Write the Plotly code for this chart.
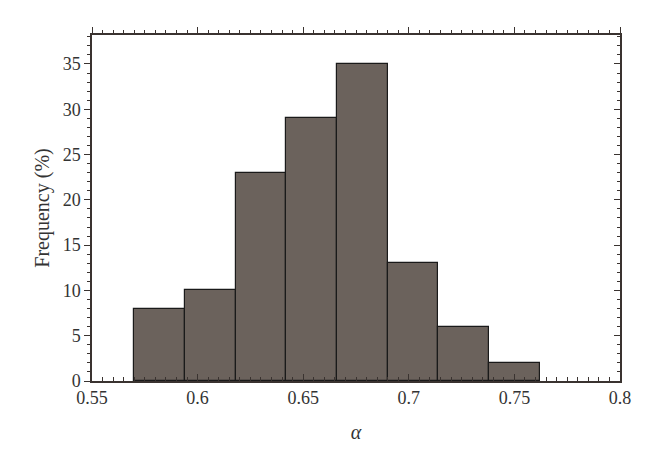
import plotly.graph_objects as go

bin_left = [0.570, 0.594, 0.618, 0.642, 0.666, 0.690, 0.714, 0.738]
bin_width = 0.024
frequency = [8, 10, 23, 29, 35, 13, 6, 2]
x_ticks = [0.55, 0.6, 0.65, 0.7, 0.75, 0.8]
x_tick_text = ["0.55", "0.6", "0.65", "0.7", "0.75", "0.8"]
y_ticks = [0, 5, 10, 15, 20, 25, 30, 35]

font_family = "Liberation Serif, DejaVu Serif, serif"
axis_color = "#3a3330"
text_color = "#333333"

fig = go.Figure()
fig.add_trace(go.Bar(
    x=bin_left, y=frequency, width=[bin_width] * len(bin_left), offset=0,
    marker=dict(color="#6b625c", line=dict(color="#1a1a1a", width=1.2)),
    showlegend=False,
))
fig.add_trace(go.Scatter(x=[0.55], y=[0], xaxis="x2", yaxis="y2",
                         mode="markers", marker=dict(opacity=0), showlegend=False,
                         hoverinfo="skip"))

common = dict(showgrid=False, zeroline=False, linecolor=axis_color, linewidth=1.5,
              tickcolor=axis_color, tickwidth=1.2, automargin=False,
              tickfont=dict(family=font_family, size=18, color=text_color))

fig.update_layout(
    width=660, height=470,
    margin=dict(l=84, r=48, t=27, b=97),
    plot_bgcolor="white", paper_bgcolor="white",
    bargap=0,
    xaxis=dict(range=[0.55, 0.8], tickvals=x_ticks, ticktext=x_tick_text,
               ticks="inside", ticklen=7, showline=True,
               minor=dict(dtick=0.005, tick0=0.55, ticks="inside", ticklen=4,
                          tickcolor=axis_color, tickwidth=1),
               title=dict(text="<i>α</i>", font=dict(family=font_family, size=20, color=text_color),
                          standoff=18),
               **common),
    yaxis=dict(range=[0, 38.2], tickvals=y_ticks, ticks="outside", ticklen=6,
               showline=True,
               minor=dict(dtick=1, tick0=0, ticks="outside", ticklen=3,
                          tickcolor=axis_color, tickwidth=1),
               title=dict(text="Frequency (%)", font=dict(family=font_family, size=20, color=text_color),
                          standoff=8),
               **common),
    xaxis2=dict(range=[0.55, 0.8], overlaying="x", side="top", tickvals=x_ticks,
                showticklabels=False, ticks="outside", ticklen=6, showline=True,
                minor=dict(dtick=0.005, tick0=0.55, ticks="outside", ticklen=3,
                           tickcolor=axis_color, tickwidth=1),
                **common),
    yaxis2=dict(range=[0, 38.2], overlaying="y", side="right", tickvals=y_ticks,
                showticklabels=False, ticks="inside", ticklen=6, showline=True,
                minor=dict(dtick=1, tick0=0, ticks="inside", ticklen=3,
                           tickcolor=axis_color, tickwidth=1),
                **common),
)

fig.write_html("out.html")
